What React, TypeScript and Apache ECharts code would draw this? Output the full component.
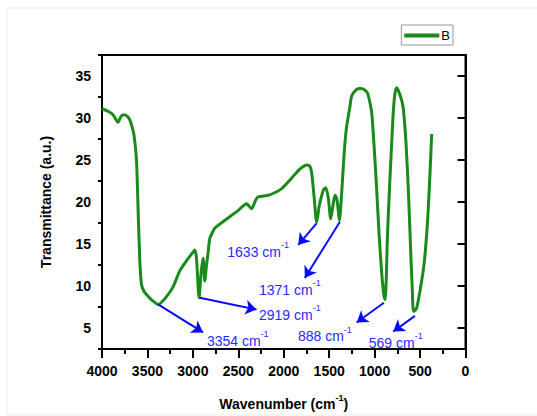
import React, { useEffect, useRef } from "react";
import * as echarts from "echarts";

const wavenumbers = [
  4000, 3934, 3879, 3824, 3790, 3758, 3720, 3695, 3670, 3647, 3621, 3603, 3585, 3566, 3540, 3511,
  3438, 3383, 3300, 3218, 3144, 3071, 3000, 2979, 2960, 2932, 2910, 2888, 2869, 2850, 2833, 2813,
  2778, 2758, 2700, 2612, 2500, 2409, 2380, 2354, 2310, 2281, 2171, 2100, 2023, 1950, 1877, 1824,
  1748, 1715, 1693, 1665, 1638, 1610, 1582, 1560, 1538, 1510, 1483, 1460, 1436, 1417, 1400, 1388,
  1362, 1340, 1326, 1308, 1271, 1253, 1198, 1160, 1125, 1080, 1059, 1032, 1005, 976, 950, 921,
  900, 885, 870, 861, 845, 830, 810, 793, 775, 756, 740, 722, 700, 683, 655, 628, 600, 585, 573,
  555, 537, 501, 457, 420, 392, 372,
];
const transmittance = [
  31.1, 30.8, 30.4, 29.5, 30.2, 30.4, 30.2, 29.8, 29.0, 27.9, 25.1, 19.2, 13.3, 10.2, 9.4, 9.0,
  8.2, 7.8, 8.6, 9.9, 11.8, 13.0, 14.0, 14.3, 13.3, 8.6, 11.5, 13.3, 10.6, 12.5, 13.9, 15.7,
  16.5, 16.9, 17.4, 18.1, 19.0, 19.8, 19.5, 19.2, 20.2, 20.6, 20.8, 21.1, 21.6, 22.4, 23.3, 23.9,
  24.4, 24.3, 23.5, 20.5, 17.6, 19.5, 20.8, 21.5, 21.7, 20.5, 18.0, 19.5, 20.8, 20.4, 19.0, 17.8,
  21.2, 25.0, 27.1, 29.0, 31.4, 32.6, 33.4, 33.5, 33.45, 33.0, 32.2, 30.6, 26.5, 21.2, 16.0, 11.4,
  9.0, 8.4, 11.5, 15.3, 19.5, 23.1, 27.5, 31.0, 33.0, 33.6, 33.3, 32.8, 32.0, 31.0, 27.1, 21.2, 13.3,
  9.5, 7.0, 7.1, 7.4, 9.4, 12.5, 17.3, 23.1, 28.1,
];

const xTickLabels = [0, 500, 1000, 1500, 2000, 2500, 3000, 3500, 4000];
const yTickLabels = [5, 10, 15, 20, 25, 30, 35];
const yMinorTicks = [2.5, 7.5, 12.5, 17.5, 22.5, 27.5, 32.5, 37.5];

// annotation peaks (label text), label centre (wavenumber, T), arrow start, arrow end
const peakLabels = ["3354", "2919", "1633", "1371", "888", "569"];
const labelX = [2506, 1933, 2282, 1933, 1547, 768];
const labelY = [3.7, 6.83, 14.3, 9.78, 4.27, 3.5];
const arrowFromX = [3383, 2924, 1639, 1382, 898, 556];
const arrowFromY = [7.81, 8.6, 17.45, 17.65, 8.0, 6.44];
const arrowToX = [2888, 2300, 1841, 1768, 1198, 795];
const arrowToY = [4.47, 7.2, 14.89, 10.96, 5.65, 4.59];

export default function App() {
  const ref = useRef<HTMLDivElement>(null);
  useEffect(() => {
    if (!ref.current) return;
    const chart = echarts.init(ref.current, null, { renderer: "svg" });
    const curve = wavenumbers.map((w, i) => [w, transmittance[i]]);
    const green = "#1a8a1a";
    const blue = "#0a0aff";
    const textBlue = "#2a2aff";
    const font = "Liberation Sans, Arial, sans-serif";
    const supRich = {
      n: { fontSize: 14, color: textBlue, fontFamily: font, verticalAlign: "bottom", lineHeight: 18, opacity: 1 },
      s: { fontSize: 9, color: textBlue, fontFamily: font, verticalAlign: "top", lineHeight: 18, opacity: 1 },
    };
    chart.setOption({
      animation: false,
      backgroundColor: "#ffffff",
      graphic: [
        {
          type: "rect",
          shape: { x: 7, y: 8, width: 540, height: 407 },
          style: { fill: "none", stroke: "#ececec", lineWidth: 1 },
          silent: true,
          z: -10,
        },
      ],
      legend: {
        data: [{ name: "B", icon: "rect" }],
        right: 84,
        top: 25,
        itemWidth: 35,
        itemHeight: 4,
        itemGap: 4,
        padding: [4, 3, 3, 3],
        borderColor: "#999",
        borderWidth: 1,
        itemStyle: { color: green },
        textStyle: { fontSize: 13, color: "#000", fontFamily: font, padding: [0, 0, 0, -3] },
      },
      grid: {
        left: 102,
        right: 71.5,
        top: 55,
        bottom: 64.3,
        show: true,
        borderColor: "#000",
        borderWidth: 2,
        containLabel: false,
      },
      xAxis: {
        type: "value",
        inverse: true,
        min: 0,
        max: 4000,
        interval: 500,
        name: "{n|Wavenumber (cm}{s|-1}{n|)}",
        nameLocation: "middle",
        nameGap: 44,
        nameTextStyle: {
          rich: {
            n: { fontSize: 14, fontWeight: "bold", color: "#000", fontFamily: font, verticalAlign: "bottom", lineHeight: 18 },
            s: { fontSize: 9, fontWeight: "bold", color: "#000", fontFamily: font, verticalAlign: "top", lineHeight: 18 },
          },
        },
        axisLine: { show: true, lineStyle: { color: "#000", width: 2 } },
        axisTick: { show: true, length: 9, lineStyle: { color: "#000", width: 2 } },
        minorTick: { show: true, splitNumber: 2, length: 5, lineStyle: { color: "#000", width: 2 } },
        axisLabel: {
          fontSize: 14,
          fontWeight: "bold",
          color: "#000",
          fontFamily: font,
          margin: 15,
          customValues: xTickLabels,
          formatter: (v: number) => String(v),
        },
        splitLine: { show: false },
        minorSplitLine: { show: false },
      },
      yAxis: [
        {
          type: "value",
          min: 2.5,
          max: 37.5,
          position: "left",
          name: "Transmittance (a.u.)",
          nameLocation: "middle",
          nameGap: 49,
          nameTextStyle: { fontSize: 14, fontWeight: "bold", color: "#000", fontFamily: font },
          axisLine: { show: true, lineStyle: { color: "#000", width: 2 } },
          axisTick: { show: true, length: 8, lineStyle: { color: "#000", width: 2 }, customValues: yTickLabels },
          axisLabel: {
            fontSize: 14,
            fontWeight: "bold",
            color: "#000",
            fontFamily: font,
            margin: 11,
            customValues: yTickLabels,
            formatter: (v: number) => String(v),
          },
          splitLine: { show: false },
        },
        {
          type: "value",
          min: 2.5,
          max: 37.5,
          position: "left",
          axisLine: { show: false },
          axisTick: { show: true, length: 4, lineStyle: { color: "#000", width: 2 }, customValues: yMinorTicks },
          axisLabel: { show: false },
          splitLine: { show: false },
        },
      ],
      series: [
        {
          name: "B",
          type: "line",
          data: curve,
          symbol: "none",
          smooth: 0.25,
          lineStyle: { color: green, width: 3 },
          itemStyle: { color: green },
          z: 3,
          markLine: {
            silent: true,
            symbol: ["none", "arrow"],
            symbolSize: [11, 11],
            label: { show: false },
            lineStyle: { color: blue, width: 2, type: "solid" },
            emphasis: { disabled: true },
            data: peakLabels.map((_, i) => [
              { coord: [arrowFromX[i], arrowFromY[i]] },
              { coord: [arrowToX[i], arrowToY[i]] },
            ]),
          },
        },
        {
          name: "labels",
          type: "scatter",
          silent: true,
          symbolSize: 1,
          itemStyle: { color: "rgba(0,0,0,0)", opacity: 1 },
          data: peakLabels.map((p, i) => ({
            value: [labelX[i], labelY[i]],
            label: {
              show: true,
              position: "inside",
              opacity: 1,
              formatter: `{n|${p} cm}{s|-1}`,
              rich: supRich,
            },
          })),
          z: 5,
        },
      ],
    });
    return () => chart.dispose();
  }, []);
  return (
    <div
      ref={ref}
      style={{ position: "absolute", left: 0, top: 0, width: 537, height: 416 }}
    />
  );
}
